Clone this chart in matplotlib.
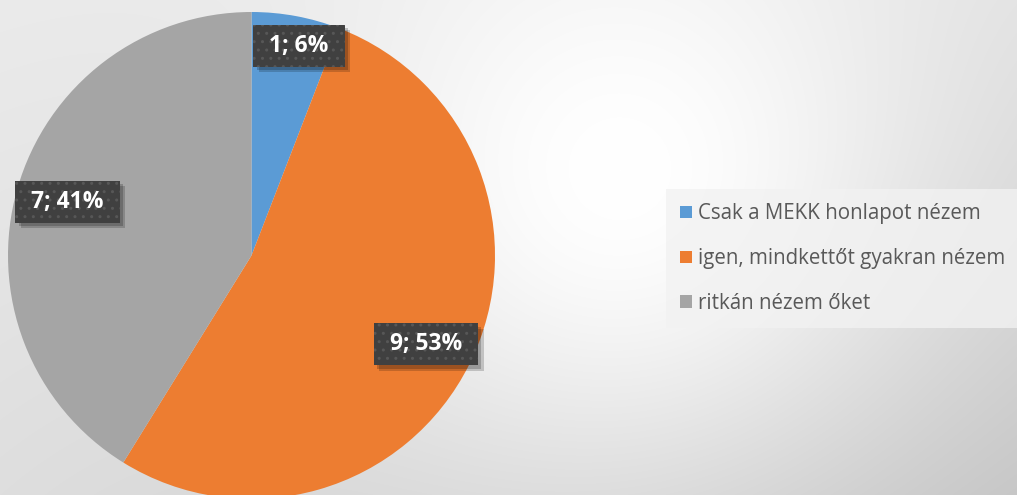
import numpy as np
import matplotlib.pyplot as plt
from matplotlib.patches import Patch, Rectangle
import matplotlib.patheffects as pe

# data
categories = ['Csak a MEKK honlapot nézem', 'igen, mindkettőt gyakran nézem', 'ritkán nézem őket']
counts = [1, 9, 7]
percents = [6, 53, 41]
colors = ['#5B9BD5', '#ED7D31', '#A5A5A5']

W, H = 1017, 495
fig = plt.figure(figsize=(W / 100, H / 100), dpi=100)

# background gradient (white spot, grey towards the corners)
bg = fig.add_axes([0, 0, 1, 1])
yy, xx = np.mgrid[0:H, 0:W]
u, v = xx / W, yy / H
base = (0.92 * (1 - u) * (1 - v) + 0.88 * u * (1 - v)
        + 0.87 * (1 - u) * v + 0.77 * u * v)
d2 = (xx - 620) ** 2 + (yy - 170) ** 2
glow = np.exp(-d2 / (2 * 210 ** 2))
img = base + (1 - base) * glow
bg.imshow(np.dstack([img] * 3), extent=[0, W, H, 0], aspect='auto')
bg.axis('off')

# pie
ax = fig.add_axes([8 / W, -4 / H, 487 / W, 487 / H])
wedges, _ = ax.pie(counts, colors=colors, startangle=90, counterclock=False,
                   radius=1.0, wedgeprops=dict(linewidth=0))
ax.set_xlim(-1, 1)
ax.set_ylim(-1, 1)
ax.set_aspect('equal')
ax.axis('off')

label_r = [0.885, 0.80, 0.79]
label_shift = [(8, -2), (0, -2), (1, 1)]  # pixels
labels = []
for w, c, p, r, s in zip(wedges, counts, percents, label_r, label_shift):
    ang = np.deg2rad((w.theta1 + w.theta2) / 2)
    x, y = r * np.cos(ang), r * np.sin(ang)
    t = ax.annotate(f'{c}; {p}%', (x, y), xytext=s, textcoords='offset pixels',
                    ha='center', va='center', fontsize=16.5, fontweight='bold',
                    family='Open Sans', color='white', zorder=6)
    labels.append(t)

# dark label boxes with dotted texture and soft shadow
fig.canvas.draw()
inv = ax.transData.inverted()
for t in labels:
    bb = t.get_window_extent()
    cx, cy = (bb.x0 + bb.x1) / 2, (bb.y0 + bb.y1) / 2
    bw, bh = bb.width + 32, 42
    (x0, y0), (x1, y1) = inv.transform([(cx - bw / 2, cy - bh / 2), (cx + bw / 2, cy + bh / 2)])
    box = Rectangle((x0, y0), x1 - x0, y1 - y0, fc='#404040', ec='none', zorder=4)
    box.set_path_effects([
        pe.SimplePatchShadow(offset=(4, -4), shadow_rgbFace='black', alpha=0.18),
        pe.SimplePatchShadow(offset=(2.5, -2.5), shadow_rgbFace='black', alpha=0.2),
        pe.Normal()])
    ax.add_patch(box)
    ax.add_patch(Rectangle((x0, y0), x1 - x0, y1 - y0, fc='none', ec='#575757',
                           lw=0, hatch='..', zorder=5))

# legend
handles = [Patch(facecolor=c, edgecolor='none') for c in colors]
leg = fig.legend(handles, categories, loc='upper left', bbox_to_anchor=(666 / W, 1 - 189 / H),
                 frameon=True, fancybox=False, handlelength=0.55,
                 handleheight=0.55, handletextpad=0.3, labelspacing=1.15,
                 borderpad=0.7, borderaxespad=0, prop={'family': 'Open Sans', 'size': 14.8})
leg.get_frame().set_facecolor('#F2F2F2')
leg.get_frame().set_edgecolor('none')
leg.get_frame().set_alpha(0.8)
for t in leg.get_texts():
    t.set_color('#595959')

fig.savefig('out.png', dpi=100)
